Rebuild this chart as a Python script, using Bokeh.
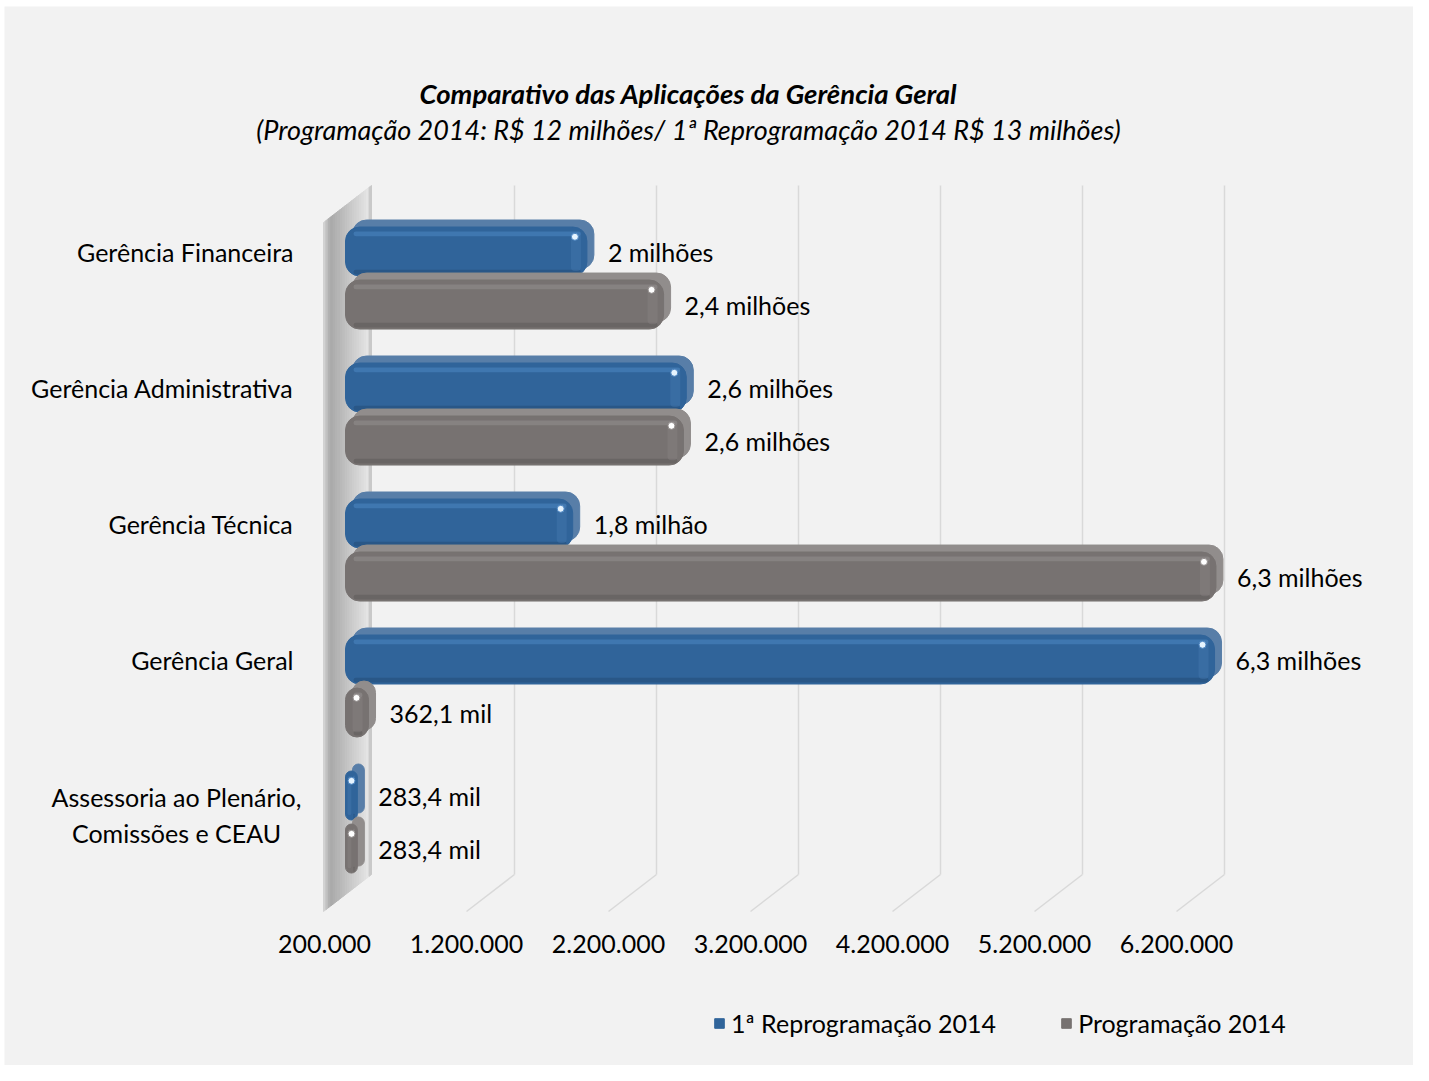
from bokeh.plotting import figure
from bokeh.models import Range1d, ColumnDataSource, Legend, LegendItem
from bokeh.core.properties import value
from bokeh.embed import file_html
from bokeh.resources import INLINE

# ---------------- data ----------------
categories = [
    "Gerência Financeira",
    "Gerência Administrativa",
    "Gerência Técnica",
    "Gerência Geral",
    "Assessoria ao Plenário,\nComissões e CEAU",
]
series_names = ["1ª Reprogramação 2014", "Programação 2014"]
reprog_2014 = [1900000, 2600000, 1800000, 6320000, 283400]
prog_2014 = [2440000, 2580000, 6330000, 362100, 283400]
reprog_labels = ["2 milhões", "2,6 milhões", "1,8 milhão", "6,3 milhões", "283,4 mil"]
prog_labels = ["2,4 milhões", "2,6 milhões", "6,3 milhões", "362,1 mil", "283,4 mil"]
tick_values = [200000, 1200000, 2200000, 3200000, 4200000, 5200000, 6200000]
tick_labels = ["200.000", "1.200.000", "2.200.000", "3.200.000", "4.200.000", "5.200.000", "6.200.000"]
title_text = "Comparativo das Aplicações da Gerência Geral"
subtitle_text = "(Programação 2014: R$ 12 milhões/ 1ª Reprogramação 2014 R$ 13 milhões)"

# ---------------- layout ----------------
W, H = 1413, 1065
FL, FT = 4, 6           # frame offset (white border)
PX = 142 / 1e6          # pixels per unit of value
X0_PX = 324             # pixel position of the axis minimum (front plane)
AXIS_MIN = tick_values[0]
ROW_PX = 136            # pixels per category
Y0_PX = 251             # pixel position of first category

x_start = AXIS_MIN + (FL - X0_PX) / PX
x_end = x_start + (W - FL) / PX
y_end = (FT - Y0_PX) / ROW_PX
y_start = (H - Y0_PX) / ROW_PX


def dx(px):
    return px / PX


def dy(px):
    return px / ROW_PX


def sx(px):  # absolute pixel column -> data x
    return AXIS_MIN + (px - X0_PX) / PX


def sy(py):  # absolute pixel row -> data y
    return (py - Y0_PX) / ROW_PX


FONT = value("Lato")
FS = value("25px")

p = figure(width=W, height=H, x_range=Range1d(x_start, x_end), y_range=Range1d(y_start, y_end),
           output_backend="svg", toolbar_location=None,
           min_border_left=FL, min_border_top=FT, min_border_right=0, min_border_bottom=0,
           x_axis_location=None, y_axis_location=None,
           background_fill_color="#f2f2f2", border_fill_color="#ffffff",
           outline_line_color=None)
p.grid.visible = False

# 3D geometry
Y_TOP = sy(222)
Y_BOT = sy(911)
DEPTH_X = dx(48)
DEPTH_Y = dy(-37)

# ---- side wall (gradient strips) ----
N = 20
wall_x0 = AXIS_MIN - dx(1)
xs, ys, cols = [], [], []


def lerp(c1, c2, t):
    return "#%02x%02x%02x" % tuple(int(round(a + (b - a) * t)) for a, b in zip(c1, c2))


for k in range(N):
    f0, f1 = k / N, (k + 1) / N
    xs.append([wall_x0 + f0 * DEPTH_X, wall_x0 + f1 * DEPTH_X, wall_x0 + f1 * DEPTH_X, wall_x0 + f0 * DEPTH_X])
    ys.append([Y_TOP + f0 * DEPTH_Y, Y_TOP + f1 * DEPTH_Y, Y_BOT + f1 * DEPTH_Y, Y_BOT + f0 * DEPTH_Y])
    fm = (f0 + f1) / 2
    if fm < 0.15:
        cols.append(lerp((218, 218, 218), (168, 168, 168), fm / 0.15))
    elif fm < 0.93:
        cols.append(lerp((168, 168, 168), (228, 228, 228), (fm - 0.15) / 0.78))
    else:
        cols.append("#c9c9c9")
p.patches(xs=xs, ys=ys, fill_color=cols, line_color=cols, line_width=1)

# ---- gridlines (back plane + floor diagonals) ----
gx = [t + DEPTH_X for t in tick_values[1:]]
p.segment(x0=gx, y0=[Y_TOP + DEPTH_Y] * len(gx), x1=gx, y1=[Y_BOT + DEPTH_Y] * len(gx),
          line_color="#d9d9d9", line_width=1.5)
p.segment(x0=gx, y0=[Y_BOT + DEPTH_Y] * len(gx), x1=tick_values[1:], y1=[Y_BOT] * len(gx),
          line_color="#d9d9d9", line_width=1.5)

# ---- bars ----
BAR_SHIFT = dx(21)
BAR_H = dy(49)
SIDE_PX = 7
GAP = 0.39

series = [
    dict(vals=reprog_2014, labels=reprog_labels, off=0.0,
         back="#587ea8", main="#30649a", hi="#4d86c2", lo="#244d78", cap="#4a7fb5", dot="#e6f4ff"),
    dict(vals=prog_2014, labels=prog_labels, off=GAP,
         back="#918d8c", main="#777271", hi="#948f8e", lo="#5f5b5a", cap="#8c8887", dot="#ffffff"),
]
main_renderers = []
for s in series:
    yv = [i + s["off"] for i in range(len(categories))]
    left = [AXIS_MIN + BAR_SHIFT] * len(yv)
    right = [v + BAR_SHIFT for v in s["vals"]]
    src = ColumnDataSource(dict(
        y=yv, left=left, right=right,
        bl=[l + dx(SIDE_PX) for l in left],
        br=[r + dx(SIDE_PX) for r in right],
        by=[y - dy(SIDE_PX) for y in yv],
        hl=[l + dx(8) for l in left],
        hr=[max(l + dx(9), r - dx(6)) for l, r in zip(left, right)],
        hy=[y - BAR_H * 0.36 for y in yv],
        ly=[y + BAR_H * 0.42 for y in yv],
        cl=[max(l + dx(2), r - dx(16)) for l, r in zip(left, right)],
        cr=[max(l + dx(4), r - dx(6)) for l, r in zip(left, right)],
        dx_=[max(l + dx(6), r - dx(12)) for l, r in zip(left, right)],
        dy_=[y - BAR_H * 0.3 for y in yv]))
    # top / end faces
    p.hbar(y="by", left="bl", right="br", height=BAR_H, source=src,
           fill_color=s["back"], line_color=s["back"], border_radius=14)
    # front face
    r = p.hbar(y="y", left="left", right="right", height=BAR_H, source=src,
               fill_color=s["main"], line_color=s["main"], border_radius=14)
    main_renderers.append(r)
    # darker lower rim
    p.hbar(y="ly", left="hl", right="hr", height=BAR_H * 0.1, source=src,
           fill_color=s["lo"], fill_alpha=0.55, line_color=None, border_radius=3)
    # light upper rim
    p.hbar(y="hy", left="hl", right="hr", height=BAR_H * 0.1, source=src,
           fill_color=s["hi"], fill_alpha=0.55, line_color=None, border_radius=3)
    # lighter end cap stripe
    p.hbar(y="y", left="cl", right="cr", height=BAR_H * 0.8, source=src,
           fill_color=s["cap"], fill_alpha=0.35, line_color=None, border_radius=4)
    # highlight dot
    p.scatter(x="dx_", y="dy_", source=src, size=7, marker="circle",
              fill_color=s["dot"], line_color=s["hi"], line_width=1)
    # data labels
    lx = [v + BAR_SHIFT + dx(SIDE_PX + 14) for v in s["vals"]]
    p.text(x=lx, y=yv, text=s["labels"], text_font=FONT, text_font_size=FS,
           text_align="left", text_baseline="middle", text_color="#000000")

# ---- category labels ----
single = [(i, c) for i, c in enumerate(categories) if "\n" not in c]
multi = [(i, c) for i, c in enumerate(categories) if "\n" in c]
p.text(x=[sx(293)] * len(single), y=[i for i, _ in single], text=[c for _, c in single],
       text_font=FONT, text_font_size=FS, text_align="right", text_baseline="middle",
       text_color="#000000")
p.text(x=[sx(176)] * len(multi), y=[i + 0.14 for i, _ in multi], text=[c for _, c in multi],
       text_font=FONT, text_font_size=FS, text_align="center", text_baseline="middle",
       text_line_height=1.2, text_color="#000000")

# ---- tick labels ----
p.text(x=tick_values, y=[sy(943)] * len(tick_values), text=tick_labels,
       text_font=FONT, text_font_size=FS, text_align="center", text_baseline="middle",
       text_color="#000000")

# ---- titles ----
p.text(x=[sx(688)], y=[sy(93)], text=[title_text], text_font=FONT,
       text_font_size=value("27.5px"), text_font_style="bold italic", text_align="center",
       text_baseline="middle", text_color="#000000")
p.text(x=[sx(688)], y=[sy(129)], text=[subtitle_text], text_font=FONT,
       text_font_size=value("27px"), text_font_style="italic", text_align="center",
       text_baseline="middle", text_color="#000000")

# ---- legend ----
legend = Legend(items=[LegendItem(label=series_names[0], renderers=[main_renderers[0]]),
                       LegendItem(label=series_names[1], renderers=[main_renderers[1]])],
                orientation="horizontal", location=(713 - FL, 27),
                glyph_width=12, glyph_height=12, label_standoff=6, spacing=64,
                padding=0, margin=0, border_line_color=None, background_fill_alpha=0,
                label_text_font="Lato", label_text_font_size="25px", label_text_color="#000000")
p.add_layout(legend, "center")

open("out.html", "w").write(file_html(p, INLINE))
